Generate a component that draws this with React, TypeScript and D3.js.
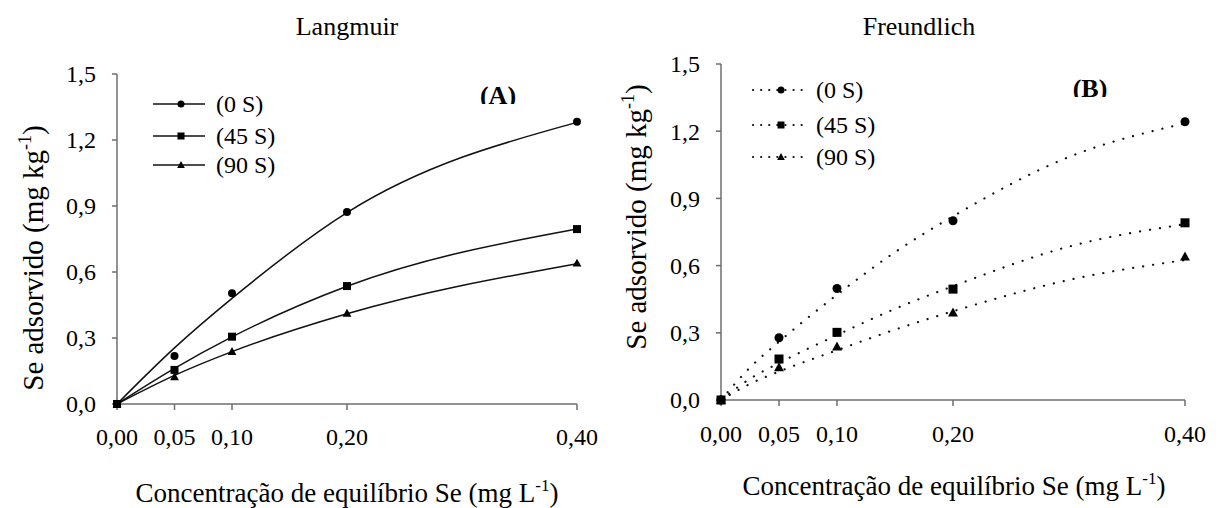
import React from "react";
import * as d3 from "d3";

// ---------- data ----------
const xTicks = [0, 0.05, 0.1, 0.2, 0.4];
const xTickLabels = ["0,00", "0,05", "0,10", "0,20", "0,40"];
const yTicks = [0, 0.3, 0.6, 0.9, 1.2, 1.5];
const yTickLabels = ["0,0", "0,3", "0,6", "0,9", "1,2", "1,5"];
const seriesNames = ["(0 S)", "(45 S)", "(90 S)"];
const markerShapes = ["circle", "square", "triangle"];

// Langmuir (A) — observed
const obsX = [0, 0.05, 0.1, 0.2, 0.4];
const langObs0 = [0, 0.218, 0.503, 0.873, 1.283];
const langObs45 = [0, 0.155, 0.306, 0.536, 0.795];
const langObs90 = [0, 0.124, 0.238, 0.412, 0.64];
// Langmuir (A) — fitted curve
const langFitX = [0, 0.05, 0.1, 0.2, 0.4];
const langFit0 = [0, 0.255, 0.48, 0.87, 1.28];
const langFit45 = [0, 0.162, 0.305, 0.535, 0.795];
const langFit90 = [0, 0.13, 0.238, 0.41, 0.638];

// Freundlich (B) — observed
const freObs0 = [0, 0.278, 0.498, 0.8, 1.242];
const freObs45 = [0, 0.183, 0.302, 0.495, 0.791];
const freObs90 = [0, 0.146, 0.238, 0.39, 0.64];
// Freundlich (B) — fitted curve
const freFitX = [0, 0.025, 0.05, 0.1, 0.15, 0.2, 0.3, 0.4];
const freFit0 = [0, 0.145, 0.26, 0.47, 0.66, 0.82, 1.085, 1.235];
const freFit45 = [0, 0.095, 0.165, 0.29, 0.407, 0.508, 0.685, 0.785];
const freFit90 = [0, 0.072, 0.127, 0.222, 0.314, 0.396, 0.536, 0.625];

const FONT = "Liberation Serif, Times New Roman, serif";

function Marker({ shape, x, y, s }: { shape: string; x: number; y: number; s: number }) {
  if (shape === "circle") return <circle cx={x} cy={y} r={s * 0.5} fill="#000" />;
  if (shape === "square")
    return <rect x={x - s * 0.5} y={y - s * 0.5} width={s} height={s} fill="#000" />;
  const h = s * 0.95;
  return (
    <path
      d={`M${x},${y - h * 0.6}L${x + s * 0.55},${y + h * 0.45}L${x - s * 0.55},${y + h * 0.45}Z`}
      fill="#000"
    />
  );
}

type PanelProps = {
  id: string;
  x0: number;
  x1: number;
  y0: number;
  y1: number;
  title: string;
  titleX: number;
  label: string;
  labelX: number;
  labelBase: number;
  obs: number[][];
  fitX: number[];
  fits: number[][];
  dotted: boolean;
  markerSize: number;
  legendX: number[];
  legendY: number[];
  yTitleX: number;
  yTitleY: number;
  xTitleX: number;
  xTitleY: number;
  xTickBase: number;
};

function Panel(p: PanelProps) {
  const x = d3.scaleLinear().domain([0, 0.4]).range([p.x0, p.x1]);
  const y = d3.scaleLinear().domain([0, 1.5]).range([p.y0, p.y1]);
  const line = d3
    .line<[number, number]>()
    .x((d) => x(d[0]))
    .y((d) => y(d[1]))
    .curve(d3.curveMonotoneX);
  const dash = p.dotted ? "0.1,10" : undefined;
  const lw = p.dotted ? 2.2 : 1.5;
  const axisColor = "#6e6e6e";
  return (
    <g>
      {/* fitted curves */}
      {p.fits.map((f, i) => (
        <path
          key={"f" + i}
          d={line(p.fitX.map((xv, j) => [xv, f[j]] as [number, number])) || ""}
          fill="none"
          stroke="#111"
          strokeWidth={lw}
          strokeDasharray={dash}
          strokeLinecap={p.dotted ? "round" : "butt"}
        />
      ))}
      {/* axes */}
      <line x1={p.x0} x2={p.x0} y1={p.y1} y2={p.y0} stroke={axisColor} strokeWidth={1.5} />
      <line x1={p.x0} x2={p.x1} y1={p.y0} y2={p.y0} stroke={axisColor} strokeWidth={1.5} />
      {yTicks.map((t, i) => (
        <g key={"yt" + i}>
          <line x1={p.x0 - 5} x2={p.x0} y1={y(t)} y2={y(t)} stroke={axisColor} strokeWidth={1.5} />
          <text
            x={p.x0 - 21}
            y={y(t)}
            dy="0.35em"
            textAnchor="end"
            fontFamily={FONT}
            fontSize={24}
          >
            {yTickLabels[i]}
          </text>
        </g>
      ))}
      {xTicks.map((t, i) => (
        <g key={"xt" + i}>
          <line x1={x(t)} x2={x(t)} y1={p.y0} y2={p.y0 + 6} stroke={axisColor} strokeWidth={1.5} />
          <text x={x(t)} y={p.xTickBase} textAnchor="middle" fontFamily={FONT} fontSize={24}>
            {xTickLabels[i]}
          </text>
        </g>
      ))}
      {/* observed markers */}
      {p.obs.map((o, i) =>
        obsX.map((xv, j) => (
          <Marker key={"m" + i + "-" + j} shape={markerShapes[i]} x={x(xv)} y={y(o[j])} s={p.markerSize} />
        ))
      )}
      {/* legend */}
      {seriesNames.map((n, i) => (
        <g key={"lg" + i}>
          <line
            x1={p.legendX[0]}
            x2={p.legendX[1]}
            y1={p.legendY[i]}
            y2={p.legendY[i]}
            stroke="#111"
            strokeWidth={lw}
            strokeDasharray={p.dotted ? "0.1,8" : undefined}
            strokeLinecap={p.dotted ? "round" : "butt"}
          />
          <Marker shape={markerShapes[i]} x={(p.legendX[0] + p.legendX[1]) / 2 + 2} y={p.legendY[i]} s={7} />
          <text
            x={p.legendX[1] + 11}
            y={p.legendY[i]}
            dy="0.35em"
            fontFamily={FONT}
            fontSize={24}
          >
            {n}
          </text>
        </g>
      ))}
      {/* panel letter, clipped at baseline */}
      <clipPath id={"clip" + p.id}>
        <rect x={p.labelX - 40} y={0} width={80} height={p.labelBase} />
      </clipPath>
      <text
        x={p.labelX}
        y={p.labelBase}
        textAnchor="middle"
        fontFamily={FONT}
        fontWeight="bold"
        fontSize={26}
        clipPath={`url(#clip${p.id})`}
      >
        {p.label}
      </text>
      {/* titles */}
      <text x={p.titleX} y={35} textAnchor="middle" fontFamily={FONT} fontSize={26}>
        {p.title}
      </text>
      <text
        transform={`translate(${p.yTitleX},${p.yTitleY}) rotate(-90)`}
        textAnchor="middle"
        fontFamily={FONT}
        fontSize={29}
      >
        Se adsorvido (mg kg
        <tspan fontSize={18} dy={-12}>
          -1
        </tspan>
        <tspan dy={12}>)</tspan>
      </text>
      <text x={p.xTitleX} y={p.xTitleY} textAnchor="middle" fontFamily={FONT} fontSize={27}>
        Concentração de equilíbrio Se (mg L
        <tspan fontSize={17} dy={-11}>
          -1
        </tspan>
        <tspan dy={11}>)</tspan>
      </text>
    </g>
  );
}

export default function App() {
  return (
    <svg
      width={1222}
      height={508}
      style={{ position: "absolute", left: 0, top: 0, background: "#fff" }}
    >
      <rect width={1222} height={508} fill="#fff" />
      <Panel
        id="A"
        x0={117}
        x1={577}
        y0={404}
        y1={74}
        title="Langmuir"
        titleX={347}
        label="(A)"
        labelX={498}
        labelBase={104}
        obs={[langObs0, langObs45, langObs90]}
        fitX={langFitX}
        fits={[langFit0, langFit45, langFit90]}
        dotted={false}
        markerSize={8}
        legendX={[153, 205]}
        legendY={[104, 136, 165]}
        yTitleX={43}
        yTitleY={258}
        xTitleX={347}
        xTitleY={502}
        xTickBase={445}
      />
      <Panel
        id="B"
        x0={721}
        x1={1185}
        y0={400}
        y1={64}
        title="Freundlich"
        titleX={919}
        label="(B)"
        labelX={1090}
        labelBase={97}
        obs={[freObs0, freObs45, freObs90]}
        fitX={freFitX}
        fits={[freFit0, freFit45, freFit90]}
        dotted={true}
        markerSize={9}
        legendX={[753, 805]}
        legendY={[90, 125, 157]}
        yTitleX={646}
        yTitleY={217}
        xTitleX={954}
        xTitleY={495}
        xTickBase={442}
      />
    </svg>
  );
}
